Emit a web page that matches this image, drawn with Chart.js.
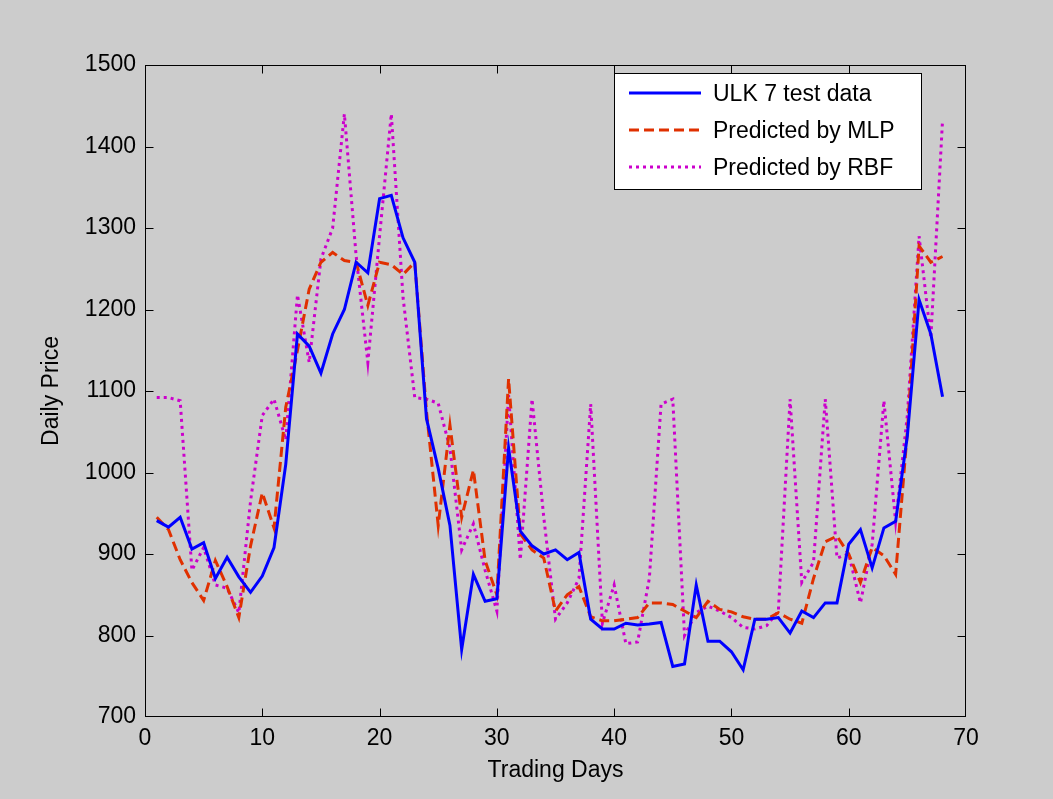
<!DOCTYPE html>
<html>
<head>
<meta charset="utf-8">
<script src="https://cdn.jsdelivr.net/npm/chart.js@4/dist/chart.umd.min.js"></script>
<style>
  html, body { margin: 0; padding: 0; background: #cccccc; }
  canvas { display: block; }
</style>
</head>
<body>
<canvas id="chart" width="1053" height="799"></canvas>
<script>
// trading day index
const days = [
  1, 2, 3, 4, 5, 6, 7, 8, 9, 10, 11, 12, 13, 14, 15, 16, 17,
  18, 19, 20, 21, 22, 23, 24, 25, 26, 27, 28, 29, 30, 31, 32, 33, 34,
  35, 36, 37, 38, 39, 40, 41, 42, 43, 44, 45, 46, 47, 48, 49, 50, 51,
  52, 53, 54, 55, 56, 57, 58, 59, 60, 61, 62, 63, 64, 65, 66, 67, 68
];

// actual prices (ULK 7 test data)
const testData = [
  941, 933, 945, 906, 914, 870, 896, 872, 853, 873, 908, 1010, 1170, 1155, 1122, 1170, 1200,
  1258, 1245, 1336, 1340, 1288, 1258, 1066, 1005, 935, 783, 875, 842, 845, 1030, 928, 910, 900,
  905, 893, 902, 820, 808, 808, 815, 813, 814, 816, 762, 765, 862, 793, 793, 780, 758,
  820, 820, 822, 803, 830, 822, 840, 840, 912, 930, 883, 932, 940, 1045, 1212, 1170, 1093
];

// MLP prediction
const mlpData = [
  945, 930, 893, 865, 843, 892, 860, 822, 910, 975, 932, 1080, 1150, 1225, 1258, 1270, 1260,
  1258, 1205, 1258, 1255, 1243, 1258, 1075, 935, 1058, 945, 1003, 892, 850, 1115, 925, 905, 895,
  830, 850, 860, 823, 818, 818, 820, 822, 840, 840, 838, 830, 822, 842, 832, 829, 823,
  820, 820, 828, 820, 815, 870, 915, 922, 900, 865, 908, 898, 875, 1050, 1278, 1258, 1265
];

// RBF prediction
const rbfData = [
  1092, 1092, 1088, 880, 908, 862, 858, 828, 965, 1070, 1090, 1040, 1218, 1135, 1262, 1300, 1440,
  1266, 1135, 1290, 1440, 1215, 1092, 1090, 1085, 1030, 905, 937, 880, 830, 1095, 893, 1090, 945,
  820, 840, 870, 1084, 815, 862, 790, 792, 870, 1084, 1090, 800, 828, 836, 830, 822, 810,
  808, 812, 830, 1090, 865, 890, 1090, 895, 900, 840, 912, 1088, 940, 1070, 1290, 1165, 1432
];

const xTicks = [0, 10, 20, 30, 40, 50, 60, 70];
const yTicks = [700, 800, 900, 1000, 1100, 1200, 1300, 1400, 1500];

const FONT = "'Liberation Sans', Arial, sans-serif";

function toPoints(values) {
  return values.map((v, i) => ({ x: days[i], y: v }));
}

// axes box, inward ticks on all four sides, and the legend box
const boxPlugin = {
  id: "matlabBox",
  afterDraw(chart) {
    const ctx = chart.ctx;
    const area = chart.chartArea;
    const xs = chart.scales.x;
    const ys = chart.scales.y;
    const tl = 8;
    const L = area.left + 0.5, R = area.right - 0.5;
    const T = area.top + 0.5, B = area.bottom - 0.5;

    ctx.save();
    ctx.strokeStyle = "#000";
    ctx.lineWidth = 1;
    ctx.strokeRect(L, T, R - L, B - T);

    ctx.beginPath();
    xTicks.forEach(t => {
      const px = Math.min(Math.round(xs.getPixelForValue(t)) + 0.5, R);
      ctx.moveTo(px, B);
      ctx.lineTo(px, B - tl);
      ctx.moveTo(px, T);
      ctx.lineTo(px, T + tl);
    });
    yTicks.forEach(t => {
      const py = Math.min(Math.max(Math.round(ys.getPixelForValue(t)) + 0.5, T), B);
      ctx.moveTo(L, py);
      ctx.lineTo(L + tl, py);
      ctx.moveTo(R, py);
      ctx.lineTo(R - tl, py);
    });
    ctx.stroke();

    // legend
    const lx = 614, ly = 73, lw = 307, lh = 116;
    ctx.fillStyle = "#fff";
    ctx.fillRect(lx, ly, lw, lh);
    ctx.strokeRect(lx + 0.5, ly + 0.5, lw, lh);

    const rows = [93, 130, 167];
    ctx.font = "23px " + FONT;
    ctx.textBaseline = "middle";
    chart.data.datasets.forEach((ds, i) => {
      const y = rows[i];
      ctx.beginPath();
      ctx.setLineDash(ds.borderDash || []);
      ctx.strokeStyle = ds.borderColor;
      ctx.lineWidth = ds.borderWidth;
      ctx.moveTo(629, y);
      ctx.lineTo(701, y);
      ctx.stroke();
      ctx.setLineDash([]);
      ctx.fillStyle = "#000";
      ctx.fillText(ds.label, 713, y + 2);
    });
    ctx.restore();
  }
};

new Chart(document.getElementById("chart"), {
  type: "line",
  data: {
    datasets: [
      {
        label: "ULK 7 test data",
        data: toPoints(testData),
        borderColor: "#0000ff",
        borderWidth: 3,
        pointRadius: 0,
        tension: 0
      },
      {
        label: "Predicted by MLP",
        data: toPoints(mlpData),
        borderColor: "#e03000",
        borderWidth: 3,
        borderDash: [10, 5],
        pointRadius: 0,
        tension: 0
      },
      {
        label: "Predicted by RBF",
        data: toPoints(rbfData),
        borderColor: "#cc00cc",
        borderWidth: 3,
        borderDash: [3, 4],
        pointRadius: 0,
        tension: 0
      }
    ]
  },
  options: {
    responsive: false,
    animation: false,
    devicePixelRatio: 1,
    layout: { padding: { left: 0, top: 65, right: 87, bottom: 0 } },
    plugins: {
      legend: { display: false },
      tooltip: { enabled: false }
    },
    scales: {
      x: {
        type: "linear",
        min: 0,
        max: 70,
        afterFit: s => { s.height = 82; },
        afterBuildTicks: s => { s.ticks = xTicks.map(v => ({ value: v })); },
        grid: { display: false, drawTicks: false },
        border: { display: false },
        ticks: {
          padding: 8, color: "#000", font: { family: FONT, size: 23 }, maxRotation: 0,
          callback: v => String(v)
        },
        title: {
          display: true,
          text: "Trading Days",
          color: "#000",
          font: { family: FONT, size: 23 },
          padding: { top: 0, bottom: 15 }
        }
      },
      y: {
        min: 700,
        max: 1500,
        afterFit: s => { s.width = 145; },
        afterBuildTicks: s => { s.ticks = yTicks.map(v => ({ value: v })); },
        grid: { display: false, drawTicks: false },
        border: { display: false },
        ticks: {
          padding: 9, color: "#000", font: { family: FONT, size: 23 },
          callback: v => String(v)
        },
        title: {
          display: true,
          text: "Daily Price",
          color: "#000",
          font: { family: FONT, size: 23 },
          padding: { top: 38, bottom: 0 }
        }
      }
    }
  },
  plugins: [boxPlugin]
});
</script>
</body>
</html>
